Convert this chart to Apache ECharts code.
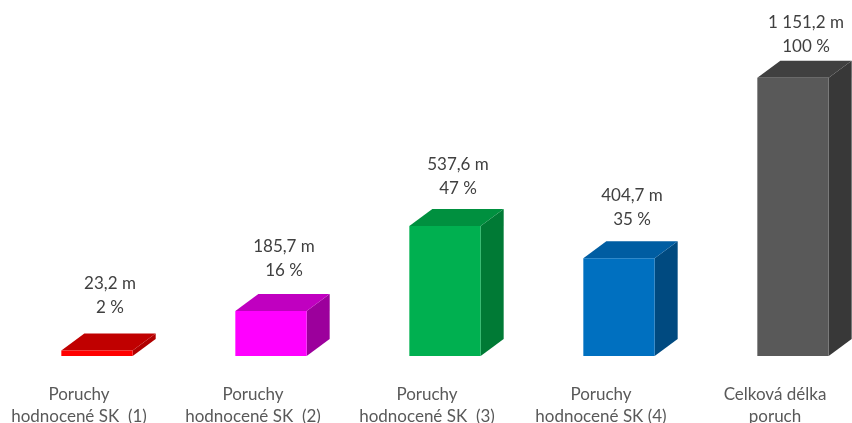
<!DOCTYPE html>
<html>
<head>
<meta charset="utf-8">
<script src="https://cdn.jsdelivr.net/npm/echarts@6/dist/echarts.min.js"></script>
<style>
html,body{margin:0;padding:0;background:#fff;}
#chart{width:852px;height:423px;}
</style>
</head>
<body>
<div id="chart"></div>
<script>
var categories = [
  'Poruchy\nhodnocené SK  (1)',
  'Poruchy\nhodnocené SK  (2)',
  'Poruchy\nhodnocené SK  (3)',
  'Poruchy\nhodnocené SK (4)',
  'Celková délka\nporuch'
];
var lengths = [23.2, 185.7, 537.6, 404.7, 1151.2];
var percents = [2, 16, 47, 35, 100];
var frontColors = ['#FF0000', '#FF00FF', '#00B050', '#0070C0', '#595959'];
var topColors   = ['#C00000', '#C000C0', '#00903F', '#005DA2', '#404040'];
var sideColors  = ['#B00000', '#9C009C', '#007A35', '#004A80', '#383838'];

function fmt(v) {
  var parts = v.toFixed(1).split('.');
  var ip = parts[0].replace(/\B(?=(\d{3})+(?!\d))/g, ' ');
  return ip + ',' + parts[1];
}

var DX = 23, DY = -17;
var maxLen = Math.max.apply(null, lengths);

var chart = echarts.init(document.getElementById('chart'));
chart.setOption({
  animation: false,
  grid: { left: 10, width: 870, top: 66, height: 290, outerBoundsMode: 'none', containLabel: false },
  xAxis: {
    type: 'category',
    data: categories,
    axisLine: { show: false },
    axisTick: { show: false },
    axisLabel: {
      interval: 0,
      margin: 28,
      fontFamily: 'Lato',
      fontSize: 17,
      lineHeight: 22,
      color: '#595959',
      padding: [0, 36, 0, 0]
    }
  },
  yAxis: {
    type: 'value',
    min: 0,
    max: 1200,
    show: false,
    splitLine: { show: false }
  },
  series: [{
    type: 'custom',
    clip: false,
    data: lengths.map(function (v, i) { return [i, v]; }),
    renderItem: function (params, api) {
      var idx = params.dataIndex;
      var top = api.coord([api.value(0), api.value(1)]);
      var base = api.coord([api.value(0), 0]);
      var w = api.size([1, 0])[0] * 0.41;
      var x0 = top[0] - w / 2, x1 = top[0] + w / 2;
      var yT = top[1], yB = base[1];
      var gap = 31 - 12 * (api.value(1) / maxLen);
      return {
        type: 'group',
        children: [
          {
            type: 'polygon',
            shape: { points: [[x1, yB], [x1 + DX, yB + DY], [x1 + DX, yT + DY], [x1, yT]] },
            style: { fill: sideColors[idx] }
          },
          {
            type: 'polygon',
            shape: { points: [[x0, yT], [x0 + DX, yT + DY], [x1 + DX, yT + DY], [x1, yT]] },
            style: { fill: topColors[idx] }
          },
          {
            type: 'rect',
            shape: { x: x0, y: yT, width: w, height: yB - yT },
            style: { fill: frontColors[idx] }
          },
          {
            type: 'text',
            style: {
              x: top[0] + 13,
              y: yT - gap,
              text: fmt(lengths[idx]) + ' m\n' + percents[idx] + ' %',
              align: 'center',
              verticalAlign: 'bottom',
              fontFamily: 'Lato',
              fontSize: 17,
              lineHeight: 24,
              fill: '#404040'
            }
          }
        ]
      };
    }
  }]
});
</script>
</body>
</html>
